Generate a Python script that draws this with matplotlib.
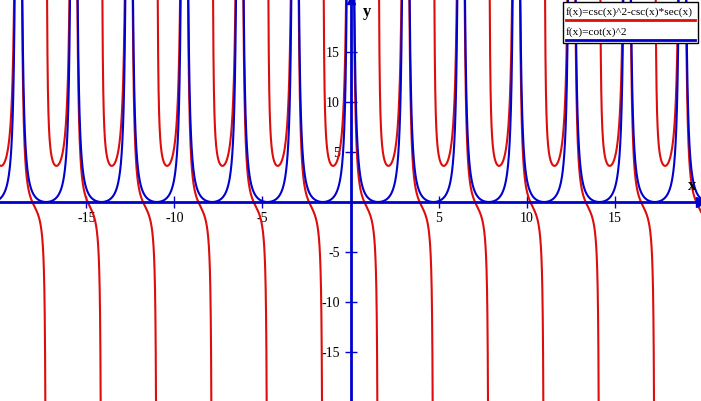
import matplotlib
matplotlib.use("Agg")
import matplotlib.pyplot as plt
import numpy as np

# plot window and ticks
x_range = (-19.9, 19.9)
y_range = (-19.9, 20.2)
x_ticks = [-15, -10, -5, 5, 10, 15]
y_ticks = [-15, -10, -5, 5, 10, 15]
legend_labels = ["f(x)=csc(x)^2-csc(x)*sec(x)", "f(x)=cot(x)^2"]

RED = "#dd0d0d"
BLUE = "#0000cc"

# the plotted functions (as given in the legend)
x = np.linspace(x_range[0], x_range[1], 400001)
with np.errstate(divide="ignore", invalid="ignore"):
    s, c = np.sin(x), np.cos(x)
    f_red = 1 / s**2 - 1 / (s * c)
    f_blue = (c / s) ** 2
f_red[np.abs(f_red) > 200] = np.nan
f_blue[np.abs(f_blue) > 200] = np.nan

plt.rcParams["font.family"] = ["Liberation Serif", "DejaVu Serif"]

fig = plt.figure(figsize=(7.01, 4.01), dpi=100)
ax = fig.add_axes([0, 0, 1, 1])
ax.plot(x, f_red, color=RED, lw=1.5)
ax.plot(x, f_blue, color=BLUE, lw=1.5)

ax.set_xlim(*x_range)
ax.set_ylim(*y_range)

# axes through the origin
for side in ("top", "right"):
    ax.spines[side].set_visible(False)
ax.spines["left"].set_position(("data", 0))
ax.spines["bottom"].set_position(("data", 0))
for side in ("left", "bottom"):
    ax.spines[side].set_color(BLUE)
    ax.spines[side].set_linewidth(2)
    ax.spines[side].set_zorder(3)

ax.set_xticks(x_ticks)
ax.set_yticks(y_ticks)
ax.tick_params(direction="inout", length=9, width=1, color=BLUE,
               labelsize=10, pad=3)
ax.set_xticklabels([str(t) for t in x_ticks])
ax.set_yticklabels([str(t) for t in y_ticks])

# arrow heads and axis names
ax.plot(1, 0, ">", color=BLUE, ms=7, transform=ax.get_yaxis_transform(),
        clip_on=False, zorder=4)
ax.plot(0, 1, "^", color=BLUE, ms=6, transform=ax.get_xaxis_transform(),
        clip_on=False, zorder=4)
ax.text(0.988, 0.535, "x", transform=ax.transAxes, fontsize=12,
        fontweight="bold", ha="center", va="center")
ax.text(0.523, 0.97, "y", transform=ax.transAxes, fontsize=12,
        fontweight="bold", ha="center", va="center")

# hand-made legend box, top right
lx0, lx1 = 563 / 701, 698 / 701
ly0, ly1 = 1 - 43 / 401, 1 - 2 / 401
ax.add_patch(plt.Rectangle((lx0, ly0), lx1 - lx0, ly1 - ly0,
                           transform=ax.transAxes, facecolor="white",
                           edgecolor="black", lw=1, zorder=5))
for i, (lab, col) in enumerate(zip(legend_labels, [RED, BLUE])):
    ty = 1 - (12 + 20 * i) / 401
    ly = 1 - (19.5 + 20 * i) / 401
    ax.text(566 / 701, ty, lab, transform=ax.transAxes, fontsize=8.2,
            ha="left", va="center", zorder=6)
    ax.plot([566 / 701, 695 / 701], [ly, ly], color=col, lw=2,
            transform=ax.transAxes, zorder=6)

fig.savefig("out.png", dpi=100)
